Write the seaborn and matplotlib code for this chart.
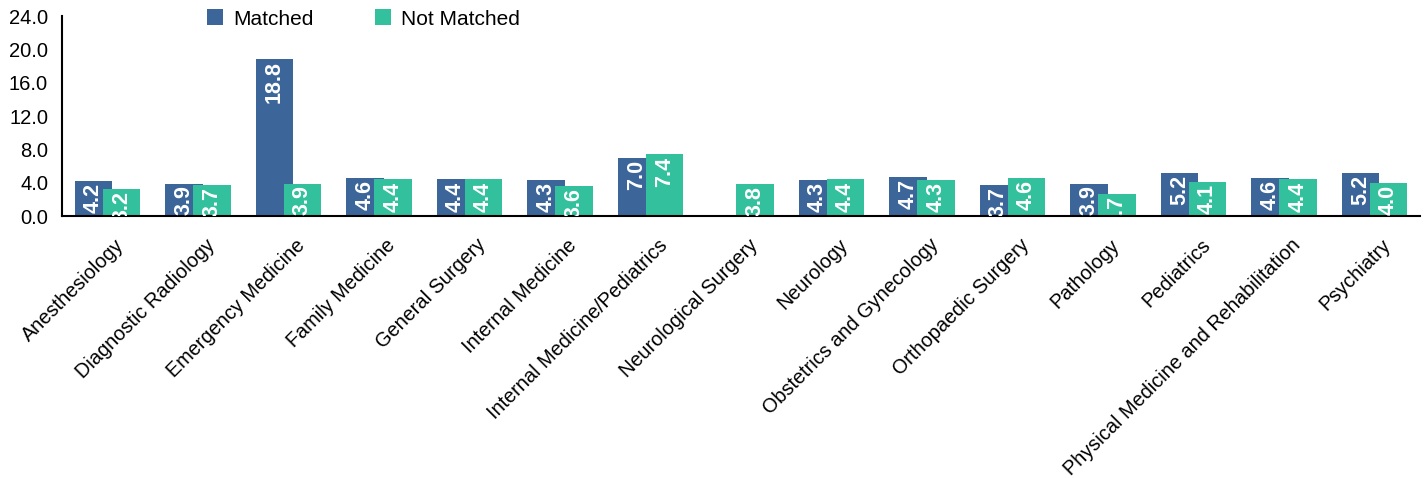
import numpy as np
import pandas as pd
import matplotlib
matplotlib.use("Agg")
import matplotlib.pyplot as plt
import matplotlib.transforms as mtransforms
import seaborn as sns

categories = ["Anesthesiology", "Diagnostic Radiology", "Emergency Medicine", "Family Medicine",
              "General Surgery", "Internal Medicine", "Internal Medicine/Pediatrics",
              "Neurological Surgery", "Neurology", "Obstetrics and Gynecology",
              "Orthopaedic Surgery", "Pathology", "Pediatrics",
              "Physical Medicine and Rehabilitation", "Psychiatry"]
matched = [4.2, 3.9, 18.8, 4.6, 4.4, 4.3, 7.0, np.nan, 4.3, 4.7, 3.7, 3.9, 5.2, 4.6, 5.2]
not_matched = [3.2, 3.7, 3.9, 4.4, 4.4, 3.6, 7.4, 3.8, 4.4, 4.3, 4.6, 2.7, 4.1, 4.4, 4.0]
series_names = ["Matched", "Not Matched"]
y_ticks = [0, 4, 8, 12, 16, 20, 24]

sns.set_theme(style="white")
plt.rcParams["font.family"] = ["Liberation Sans", "DejaVu Sans"]

df = pd.DataFrame({
    "Specialty": categories * 2,
    "Series": [series_names[0]] * len(categories) + [series_names[1]] * len(categories),
    "Value": matched + not_matched,
})

colors = {"Matched": "#3C6699", "Not Matched": "#33C09C"}

W, H = 1427, 478
fig = plt.figure(figsize=(W / 100, H / 100), dpi=100)
ax = fig.add_axes([62 / W, 1 - 216 / H, (1420 - 62) / W, 200 / H])

sns.barplot(data=df, x="Specialty", y="Value", hue="Series", palette=colors,
            order=categories, hue_order=series_names, width=0.62, dodge=True,
            saturation=1, errorbar=None, ax=ax, legend=True, linewidth=0,
            edgecolor="none")

# widen bars so the pair overlaps slightly (as in reference)
bw = 0.41
for p in ax.patches:
    c = p.get_x() + p.get_width() / 2
    p.set_x(c - bw / 2)
    p.set_width(bw)
    p.set_linewidth(0)

# value labels inside bars, rotated, white bold
for cont in ax.containers:
    for rect in cont:
        h = rect.get_height()
        if h is None or np.isnan(h) or h == 0:
            continue
        ax.text(rect.get_x() + rect.get_width() / 2, h - 0.25, f"{h:.1f}",
                rotation=90, ha="center", va="top", color="white",
                fontsize=15.5, fontweight="bold", clip_on=True)

ax.set_xlim(-0.503, len(categories) - 0.497)
ax.set_ylim(0, 24)
ax.set_yticks(y_ticks)
ax.set_yticklabels([f"{t:.1f}" for t in y_ticks], fontsize=14.5, color="black")
ax.set_xlabel("")
ax.set_ylabel("")
ax.tick_params(axis="x", length=0, pad=14)
ax.tick_params(axis="y", length=0, pad=10)
ax.set_xticks(range(len(categories)))
ax.set_xticklabels(categories, rotation=45, ha="right", rotation_mode="anchor",
                   fontsize=14.3, color="black")
offset = mtransforms.ScaledTranslation(7 / 100, 0, fig.dpi_scale_trans)
for lbl in ax.get_xticklabels():
    lbl.set_transform(lbl.get_transform() + offset)

for s in ["top", "right"]:
    ax.spines[s].set_visible(False)
for s in ["left", "bottom"]:
    ax.spines[s].set_color("black")
    ax.spines[s].set_linewidth(1.5)

leg = ax.legend(loc="center left", bbox_to_anchor=(207 / W, 1 - 19 / H),
                bbox_transform=fig.transFigure, ncol=2, frameon=False,
                fontsize=15, handlelength=0.77, handleheight=0.77, handletextpad=0.48,
                columnspacing=2.95, borderpad=0, borderaxespad=0)
for t in leg.get_texts():
    t.set_color("black")
for hnd in leg.legend_handles:
    hnd.set_linewidth(0)

fig.savefig("out.png", dpi=100)
